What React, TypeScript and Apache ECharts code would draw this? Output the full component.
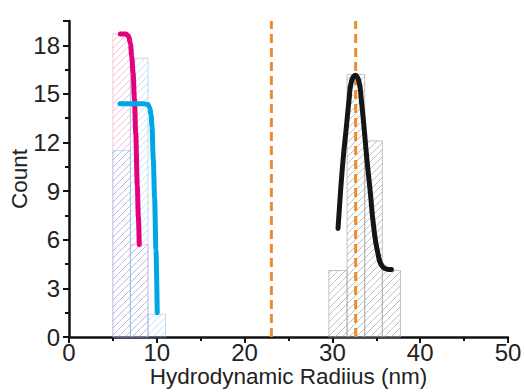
import React, { useEffect, useRef } from "react";
import * as echarts from "echarts";

// Histogram bins: [binStart, binEnd, count]
const pinkBins = [
  [5, 7, 18.7],
  [7, 9, 5.7],
];
const blueBins = [
  [5, 7, 11.5],
  [7, 9, 17.2],
  [9, 11, 1.4],
];
const grayBins = [
  [29.6, 31.67, 4.1],
  [31.67, 33.68, 16.2],
  [33.68, 35.69, 12.1],
  [35.69, 37.75, 4.1],
];

// Fit curves [x, count]
const magentaCurve = [
  [5.85, 18.7], [6.5, 18.7], [6.8, 18.55], [7.0, 18.1], [7.15, 17.3], [7.3, 16.3],
  [7.45, 14.7], [7.6, 12.6], [7.78, 9.3], [7.9, 7.4], [8.0, 5.7],
];
const cyanCurve = [
  [5.8, 14.4], [7.0, 14.4], [8.5, 14.4], [9.0, 14.35], [9.2, 14.15], [9.35, 13.7],
  [9.45, 13.0], [9.6, 11.0], [9.75, 8.6], [9.9, 5.4], [10.05, 1.5],
];
const blackCurve = [
  [30.64, 6.7], [30.91, 8.85], [31.21, 10.9], [31.59, 12.96], [31.89, 14.6], [32.16, 15.74],
  [32.62, 16.15], [33.03, 15.74], [33.3, 14.6], [33.6, 12.96], [33.94, 10.9], [34.33, 8.85],
  [34.7, 6.8], [35.19, 5.15], [35.76, 4.32], [36.72, 4.16],
];
// Vertical reference lines (x positions)
const refLines = [23.05, 32.65];

const xTicks = { min: 0, max: 50, interval: 10 };
const yTicks = { min: 0, max: 19.5, interval: 3 };

function makeHist(data: number[][], lineColor: string, borderColor: string, z: number) {
  return {
    type: "custom",
    coordinateSystem: "cartesian2d",
    data,
    z,
    encode: { x: [0, 1], y: 2 },
    renderItem: (params: any, api: any) => {
      const x0 = api.value(0);
      const x1 = api.value(1);
      const c = api.value(2);
      const pA = api.coord([x0, 0]);
      const pB = api.coord([x1, c]);
      const L = pA[0], R = pB[0], B = pA[1], T = pB[1];
      const children: any[] = [
        {
          type: "rect",
          shape: { x: L, y: T, width: R - L, height: B - T },
          style: { fill: "rgba(255,255,255,0)", stroke: borderColor, lineWidth: 1 },
        },
      ];
      const s = 7;
      const kStart = Math.ceil((L + T) / s) * s;
      for (let k = kStart; k <= R + B; k += s) {
        const xa = Math.max(L, k - B);
        const xb = Math.min(R, k - T);
        if (xb > xa) {
          children.push({
            type: "line",
            shape: { x1: xa, y1: k - xa, x2: xb, y2: k - xb },
            style: { stroke: lineColor, lineWidth: 1 },
          });
        }
      }
      return { type: "group", children };
    },
  };
}

export default function App() {
  const ref = useRef<HTMLDivElement>(null);
  useEffect(() => {
    document.body.style.margin = "0";
    const chart = echarts.init(ref.current!, null, { renderer: "svg" });
    const font = "'Liberation Sans', Arial, sans-serif";
    chart.setOption({
      animation: false,
      backgroundColor: "#ffffff",
      grid: {
        left: 69,
        right: 16,
        top: 21,
        bottom: 55,
        containLabel: false,
        outerBoundsMode: "none",
      },
      xAxis: {
        type: "value",
        min: xTicks.min,
        max: xTicks.max,
        interval: xTicks.interval,
        name: "Hydrodynamic Radiius (nm)",
        nameLocation: "middle",
        nameGap: 28,
        nameMoveOverlap: false,
        nameTextStyle: { fontFamily: font, fontSize: 22.5, color: "#222" },
        axisLine: { lineStyle: { color: "#111", width: 2.5 } },
        axisTick: { show: true, inside: false, length: 6, lineStyle: { color: "#111", width: 2 } },
        minorTick: { show: true, splitNumber: 2, length: 4, lineStyle: { color: "#111", width: 2 } },
        axisLabel: { fontFamily: font, fontSize: 24, color: "#222", margin: 3 },
        splitLine: { show: false },
      },
      yAxis: {
        type: "value",
        min: yTicks.min,
        max: yTicks.max,
        interval: yTicks.interval,
        name: "Count",
        nameLocation: "middle",
        nameGap: 38,
        nameMoveOverlap: false,
        nameTextStyle: { fontFamily: font, fontSize: 22.5, color: "#222" },
        axisLine: { show: true, lineStyle: { color: "#111", width: 2.5 } },
        axisTick: { show: true, inside: false, length: 6, lineStyle: { color: "#111", width: 2 } },
        minorTick: { show: true, splitNumber: 2, length: 4, lineStyle: { color: "#111", width: 2 } },
        axisLabel: { fontFamily: font, fontSize: 24, color: "#222", margin: 9, showMaxLabel: false },
        splitLine: { show: false },
      },
      series: [
        makeHist(grayBins, "rgba(150,150,150,0.6)", "rgba(170,170,170,0.7)", 1),
        makeHist(pinkBins, "rgba(235,110,170,0.45)", "rgba(240,150,190,0.5)", 2),
        makeHist(blueBins, "rgba(100,180,240,0.38)", "rgba(130,195,240,0.5)", 3),
        ...refLines.map((x) => ({
          type: "line",
          data: [
            [x, yTicks.min],
            [x, yTicks.max],
          ],
          symbol: "none",
          z: 5,
          lineStyle: { color: "#f08a2c", width: 3, type: [9, 5] },
        })),
        {
          type: "line",
          data: magentaCurve,
          symbol: "none",
          smooth: 0.3,
          smoothMonotone: "x",
          z: 6,
          lineStyle: { color: "#e5007d", width: 5, cap: "round" },
        },
        {
          type: "line",
          data: cyanCurve,
          symbol: "none",
          smooth: 0.3,
          smoothMonotone: "x",
          z: 6,
          lineStyle: { color: "#00a6e6", width: 5, cap: "round" },
        },
        {
          type: "line",
          data: blackCurve,
          symbol: "none",
          smooth: 0.5,
          z: 6,
          lineStyle: { color: "#151515", width: 5, cap: "round" },
        },
      ],
    });
    return () => chart.dispose();
  }, []);
  return <div ref={ref} style={{ width: 524, height: 392 }} />;
}
